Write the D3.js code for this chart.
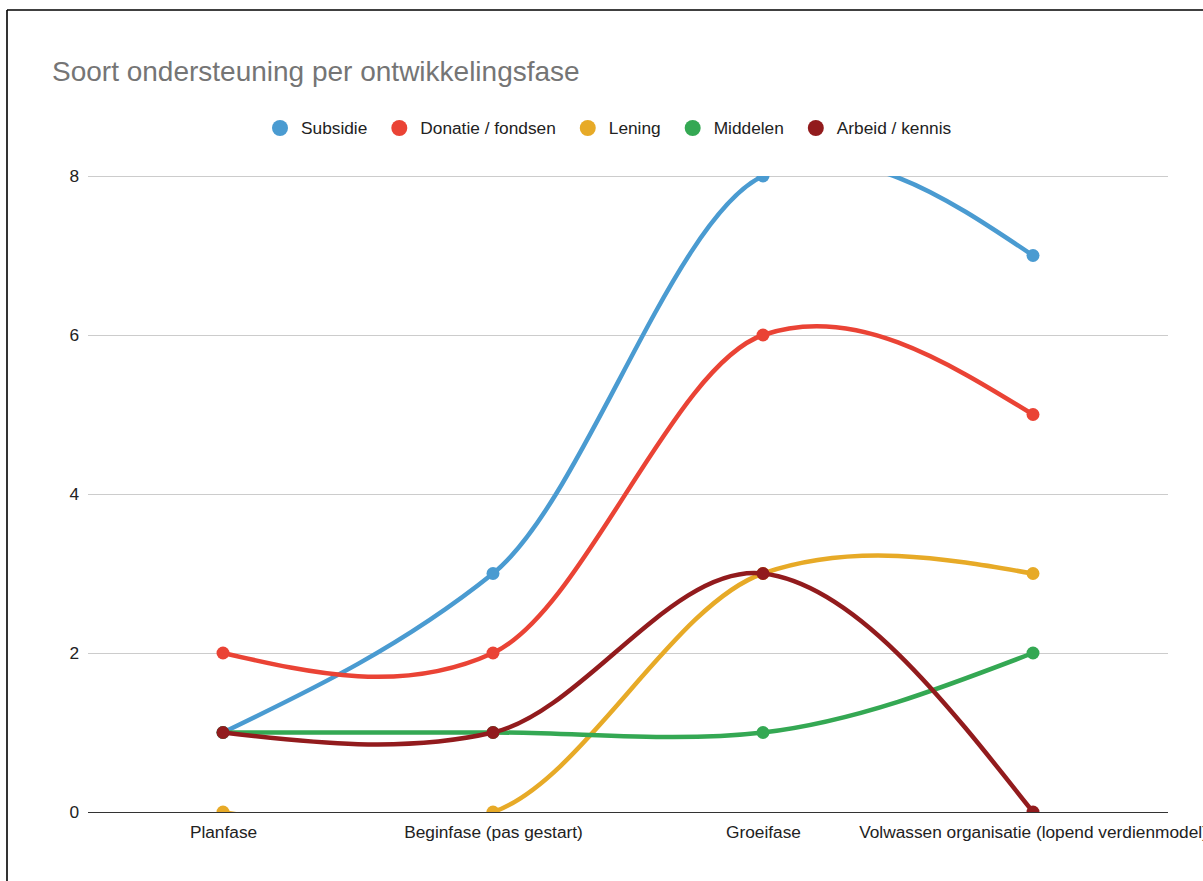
<!DOCTYPE html>
<html>
<head>
<meta charset="utf-8">
<script src="https://cdn.jsdelivr.net/npm/d3@7"></script>
<style>
  html, body { margin: 0; padding: 0; background: #fff; }
  svg { display: block; font-family: "Liberation Sans", Arial, sans-serif; }
</style>
</head>
<body>
<svg id="chart" width="1203" height="881"></svg>
<script>
// Chart data
const title = "Soort ondersteuning per ontwikkelingsfase";
const phases = ["Planfase", "Beginfase (pas gestart)", "Groeifase", "Volwassen organisatie (lopend verdienmodel)"];
const seriesNames = ["Subsidie", "Donatie / fondsen", "Lening", "Middelen", "Arbeid / kennis"];
const subsidie = [1, 3, 8, 7];
const donatie = [2, 2, 6, 5];
const lening = [0, 0, 3, 3];
const middelen = [1, 1, 1, 2];
const arbeid = [1, 1, 3, 0];
const yTicks = [0, 2, 4, 6, 8];
const colors = ["#4a9bd1", "#ea4335", "#e7aa27", "#34a853", "#921b1d"];

const seriesValues = [subsidie, donatie, lening, middelen, arbeid];
const series = seriesNames.map((name, i) => ({ name, values: seriesValues[i], color: colors[i] }));

// Smooth cubic curve: scaled central-difference tangents, natural end conditions
function SmoothCurve(context, k) { this._context = context; this._k = k; }
SmoothCurve.prototype = {
  areaStart() {}, areaEnd() {},
  lineStart() { this._x = []; this._y = []; },
  point(x, y) { this._x.push(+x); this._y.push(+y); },
  lineEnd() {
    const x = this._x, y = this._y, n = x.length, c = this._context;
    if (!n) return;
    c.moveTo(x[0], y[0]);
    if (n === 1) return;
    if (n === 2) { c.lineTo(x[1], y[1]); return; }
    const m = new Array(n);
    for (let i = 1; i < n - 1; i++) m[i] = this._k * (y[i + 1] - y[i - 1]) / (x[i + 1] - x[i - 1]);
    m[0] = (3 * (y[1] - y[0]) / (x[1] - x[0]) - m[1]) / 2;
    m[n - 1] = (3 * (y[n - 1] - y[n - 2]) / (x[n - 1] - x[n - 2]) - m[n - 2]) / 2;
    for (let i = 0; i < n - 1; i++) {
      const h = (x[i + 1] - x[i]) / 3;
      c.bezierCurveTo(x[i] + h, y[i] + m[i] * h, x[i + 1] - h, y[i + 1] - m[i + 1] * h, x[i + 1], y[i + 1]);
    }
  }
};
const curveSmooth = k => ctx => new SmoothCurve(ctx, k);

const svg = d3.select("#chart");
const plot = { left: 88, right: 1168, top: 176, bottom: 812 };
const labelSize = 17.3;

// Frame
svg.append("line").attr("x1", 7).attr("x2", 7).attr("y1", 10).attr("y2", 881)
  .attr("stroke", "#000").attr("stroke-width", 1.6);
svg.append("line").attr("x1", 7).attr("x2", 1203).attr("y1", 10).attr("y2", 10)
  .attr("stroke", "#000").attr("stroke-width", 1.6);

// Title
svg.append("text").attr("x", 52).attr("y", 81)
  .attr("font-size", 28).attr("fill", "#757575").text(title);

// Scales
const x = d3.scalePoint().domain(phases).range([plot.left, plot.right]).padding(0.5);
const y = d3.scaleLinear().domain([0, 8]).range([plot.bottom, plot.top]);

// Gridlines and y labels
const yAxis = d3.axisLeft(y).tickValues(yTicks).tickSize(-(plot.right - plot.left)).tickPadding(9).tickFormat(d3.format("d"));
const gy = svg.append("g").attr("transform", `translate(${plot.left},0)`).call(yAxis);
gy.select(".domain").remove();
gy.selectAll(".tick line").attr("stroke", d => d === 0 ? "#333" : "#cccccc").attr("stroke-width", 1);
gy.selectAll(".tick text").attr("font-size", labelSize).attr("fill", "#222").attr("font-family", "Liberation Sans, Arial, sans-serif");

// X axis labels
const xAxis = d3.axisBottom(x).tickSize(0).tickPadding(14);
const gx = svg.append("g").attr("transform", `translate(0,${plot.bottom})`).call(xAxis);
gx.select(".domain").remove();
gx.selectAll(".tick text").attr("font-size", labelSize).attr("fill", "#222").attr("font-family", "Liberation Sans, Arial, sans-serif");

// Legend
const legend = svg.append("g");
let lx = 280;
series.forEach(s => {
  legend.append("circle").attr("cx", lx).attr("cy", 128).attr("r", 8).attr("fill", s.color);
  const t = legend.append("text").attr("x", lx + 21).attr("y", 134)
    .attr("font-size", labelSize).attr("fill", "#222").text(s.name);
  lx += 21 + t.node().getComputedTextLength() + 32;
});

// Plot clipping
svg.append("clipPath").attr("id", "plot-clip").append("rect")
  .attr("x", plot.left).attr("y", plot.top)
  .attr("width", plot.right - plot.left).attr("height", plot.bottom - plot.top);

const lines = svg.append("g").attr("clip-path", "url(#plot-clip)");
const line = d3.line()
  .x((d, i) => x(phases[i]))
  .y(d => y(d))
  .curve(curveSmooth(0.78));

series.forEach(s => {
  const g = lines.append("g");
  g.append("path").attr("d", line(s.values)).attr("fill", "none")
    .attr("stroke", s.color).attr("stroke-width", 4.5).attr("stroke-linejoin", "round");
  g.selectAll("circle").data(s.values).join("circle")
    .attr("cx", (d, i) => x(phases[i])).attr("cy", d => y(d)).attr("r", 6.5)
    .attr("fill", s.color);
});
</script>
</body>
</html>
